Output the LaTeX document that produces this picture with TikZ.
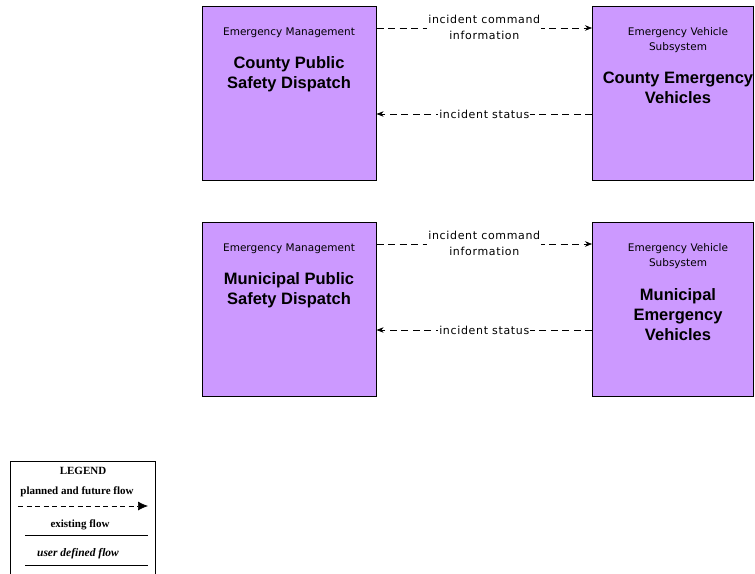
\documentclass[tikz,border=0pt]{standalone}
\usepackage{fontspec}
\setmainfont{Liberation Sans}
\newfontfamily\legfont{Liberation Serif}
\newfontfamily\pixfont{DejaVu Sans}
\newfontfamily\pixfontsp[LetterSpace=6]{DejaVu Sans}
\usetikzlibrary{arrows.meta,calc}
\definecolor{boxpurple}{HTML}{CC99FF}
\tikzset{
  sysbox/.style={draw=black, line width=0.6pt, fill=boxpurple, minimum width=174pt, minimum height=174pt, inner sep=0pt, anchor=north west},
  sysbox2/.style={sysbox, minimum width=161pt},
  small/.style={font=\pixfont\fontsize{10.5}{15.5}\selectfont, align=center, inner sep=0pt},
  title/.style={font=\fontsize{16.5}{20}\selectfont\bfseries, align=center, inner sep=0pt},
  flow/.style={line width=0.6pt, dash pattern=on 7pt off 4.5pt, -{Stealth[length=7pt,width=5.5pt]}},
  flowlab/.style={font=\pixfontsp\fontsize{11}{16}\selectfont, fill=white, align=center, inner sep=1pt},
  legtext/.style={font=\legfont\fontsize{11}{13}\selectfont\bfseries, inner sep=0pt},
}
\begin{document}
\begin{tikzpicture}[x=1pt,y=-1pt]
\useasboundingbox (0,0) rectangle (755,573);
% row 1
\node[sysbox] (cpsd) at (202,6) {};
\node[sysbox2] (cev) at (592,6) {};
\node[small] (cpsd-t) at (289,32.5) {Emergency Management};
\node[title] (cpsd-n) at (289,74) {County Public\\Safety Dispatch};
\node[small] (cev-t) at (678,40) {Emergency Vehicle\\Subsystem};
\node[title] (cev-n) at (678,88) {County Emergency\\Vehicles};
\draw[flow] ([yshift=-22pt]cpsd.north east) -- node[flowlab, yshift=0.5pt] (l1) {incident command\\information} ([yshift=-22pt]cev.north west);
\draw[flow] ([yshift=-108pt]cev.north west) -- node[flowlab] (l2) {incident status} ([yshift=-108pt]cpsd.north east);
% row 2
\node[sysbox] (mpsd) at (202,222) {};
\node[sysbox2] (mev) at (592,222) {};
\node[small] (mpsd-t) at (289,248.5) {Emergency Management};
\node[title] (mpsd-n) at (289,290) {Municipal Public\\Safety Dispatch};
\node[small] (mev-t) at (678,256) {Emergency Vehicle\\Subsystem};
\node[title] (mev-n) at (678,315) {Municipal\\Emergency\\Vehicles};
\draw[flow] ([yshift=-22pt]mpsd.north east) -- node[flowlab, yshift=0.5pt] (l3) {incident command\\information} ([yshift=-22pt]mev.north west);
\draw[flow] ([yshift=-108pt]mev.north west) -- node[flowlab] (l4) {incident status} ([yshift=-108pt]mpsd.north east);
% legend
\node[draw=black, line width=0.6pt, minimum width=145pt, minimum height=115pt, anchor=north west, inner sep=0pt] (leg) at (10,461) {};
\node[legtext] (legh) at (83,471) {LEGEND};
\node[legtext] (pf) at (77,492) {planned and future flow};
\coordinate (pfa) at (18,506);
\coordinate (pfb) at (148,506);
\draw[line width=0.7pt, dash pattern=on 5pt off 3.5pt, -{Latex[length=10pt,width=9pt]}] (pfa) -- (pfb);
\node[legtext] (ex) at (80,525) {existing flow};
\coordinate (exa) at (25,535);
\coordinate (exb) at (148,535);
\draw[line width=0.8pt] (exa) -- (exb);
\node[legtext, font=\legfont\fontsize{11.5}{13}\selectfont\bfseries\itshape] (ud) at (78,554) {user defined flow};
\coordinate (uda) at (25,565);
\coordinate (udb) at (148,565);
\draw[line width=0.8pt] (uda) -- (udb);
\end{tikzpicture}
\end{document}
